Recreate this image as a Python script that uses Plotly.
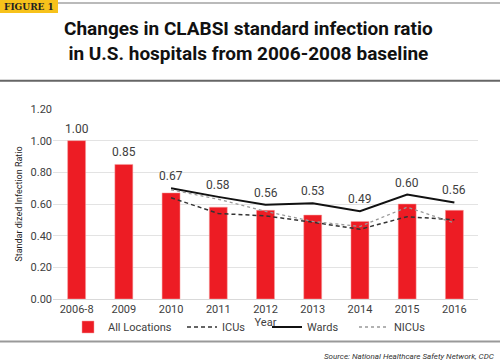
import plotly.graph_objects as go

categories = ["2006-8", "2009", "2010", "2011", "2012", "2013", "2014", "2015", "2016"]
all_locations = [1.00, 0.85, 0.67, 0.58, 0.56, 0.53, 0.49, 0.60, 0.56]
line_years = ["2010", "2011", "2012", "2013", "2014", "2015", "2016"]
icus = [0.64, 0.54, 0.525, 0.485, 0.44, 0.52, 0.50]
wards = [0.70, 0.645, 0.595, 0.605, 0.555, 0.66, 0.61]
nicus = [0.69, 0.63, 0.553, 0.49, 0.458, 0.58, 0.48]
y_ticks = [0.0, 0.2, 0.4, 0.6, 0.8, 1.0, 1.2]

W, H = 500, 364
L, R, T, B = 53, 22, 109, 65
PW, PH = W - L - R, H - T - B

def px(x):
    return (x - L) / PW

def py(y):
    return (H - B - y) / PH

FONT = "Roboto, Liberation Sans, sans-serif"
TXT = "#404040"

fig = go.Figure()
fig.add_trace(go.Bar(x=categories, y=all_locations, name="All Locations", legend="legend",
                     marker=dict(color="#ed1c24", line=dict(color="#f5a0a0", width=0.5))))
fig.add_trace(go.Scatter(x=line_years, y=icus, name="ICUs", mode="lines", legend="legend2",
                         line=dict(color="#333333", width=1.5, dash="4px,3px")))
fig.add_trace(go.Scatter(x=line_years, y=wards, name="Wards", mode="lines", legend="legend3",
                         line=dict(color="#111111", width=2)))
fig.add_trace(go.Scatter(x=line_years, y=nicus, name="NICUs", mode="lines", legend="legend4",
                         line=dict(color="#999999", width=1.3, dash="dot")))

ward_map = dict(zip(line_years, wards))
for i, (c, v) in enumerate(zip(categories, all_locations)):
    anchor = max(v, ward_map.get(c, 0))
    fig.add_annotation(x=i, y=anchor, text=f"{v:.2f}", showarrow=False,
                       yanchor="bottom", yshift=3,
                       font=dict(family=FONT, size=12, color=TXT))

annotations_extra = [
    dict(x=px(248), y=py(41), text="<b>Changes in CLABSI standard infection ratio<br>in U.S. hospitals from 2006-2008 baseline</b>",
         font=dict(family=FONT, size=19, color="#111111"), align="center"),
    dict(x=px(29), y=py(7), text="<b>FIGURE 1</b>",
         font=dict(family="DejaVu Serif", size=9, color="#222222")),
    dict(x=px(496), y=py(356), text="<i>Source: National Healthcare Safety Network, CDC</i>", xanchor="right",
         font=dict(family=FONT, size=8, color="#333333")),
]
for a in annotations_extra:
    a.setdefault("xanchor", "center")
    fig.add_annotation(xref="paper", yref="paper", showarrow=False, yanchor="middle", **a)

shapes = [
    dict(type="rect", x0=px(0), x1=px(58), y0=py(13), y1=py(0), fillcolor="#f7c21b", line=dict(width=0)),
    dict(type="line", x0=px(58), x1=px(500), y0=py(3), y1=py(3), line=dict(color="#777777", width=1.2)),
    dict(type="line", x0=px(0), x1=px(500), y0=py(80.7), y1=py(80.7), line=dict(color="#666666", width=2)),
    dict(type="line", x0=px(0), x1=px(500), y0=py(341.5), y1=py(341.5), line=dict(color="#999999", width=2)),
]
for s in shapes:
    fig.add_shape(xref="paper", yref="paper", layer="above", **s)

def legend_at(text_start):
    return dict(x=px(text_start - 40), y=py(327), xanchor="left", yanchor="middle",
                font=dict(family=FONT, size=11, color=TXT), bgcolor="rgba(0,0,0,0)")

fig.update_layout(
    width=W, height=H, margin=dict(l=L, r=R, t=T, b=B, autoexpand=False),
    paper_bgcolor="white", plot_bgcolor="white",
    bargap=0.62,
    showlegend=True,
    legend=legend_at(108),
    legend2=legend_at(222),
    legend3=legend_at(307),
    legend4=legend_at(394),
    font=dict(family=FONT, color=TXT),
)
fig.update_xaxes(type="category", categoryorder="array", categoryarray=categories,
                 range=[-0.5, len(categories) - 0.5],
                 showgrid=False, showline=True, linecolor="#d9d9d9", linewidth=1,
                 ticks="", tickfont=dict(family=FONT, size=11, color=TXT),
                 title=dict(text="Year", font=dict(family=FONT, size=11, color=TXT), standoff=0))
fig.update_yaxes(range=[0, 1.2], tickvals=y_ticks, ticktext=[f"{v:.2f}" for v in y_ticks],
                 showgrid=True, gridcolor="#e3e3e3", gridwidth=1, zeroline=False,
                 showline=False, ticks="", tickfont=dict(family=FONT, size=11, color=TXT),
                 title=dict(text="Standar dized Infection Ratio", font=dict(family=FONT, size=9, color="#222222"), standoff=6))

fig.write_html("out.html", config={"displayModeBar": False},
               post_script="document.body.style.margin='0';")
